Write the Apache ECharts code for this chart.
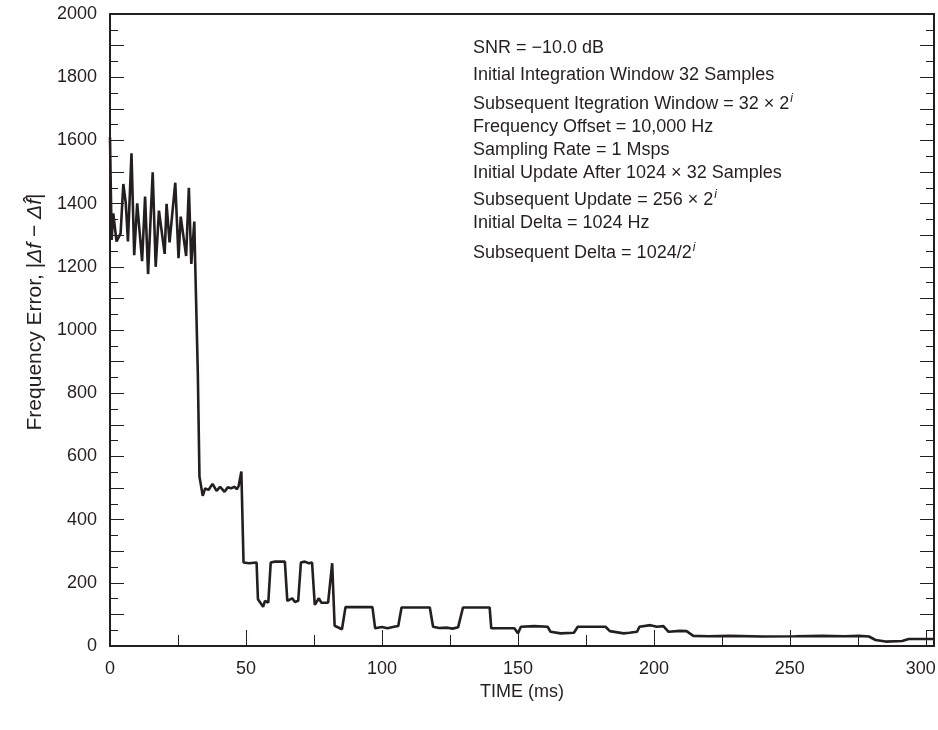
<!DOCTYPE html>
<html>
<head>
<meta charset="utf-8">
<script src="https://cdn.jsdelivr.net/npm/echarts@6/dist/echarts.min.js"></script>
<style>
  html, body { margin: 0; padding: 0; background: #fff; }
  #chart { width: 938px; height: 730px; }
</style>
</head>
<body>
<div id="chart"></div>
<script>
// time (ms) and frequency error (Hz)
const timeMs = [
  0, 0.6, 1.2, 2.4, 3.9, 4.9, 5.8, 6.6, 7.9, 8.9, 10.0, 11.8, 12.9, 14.0, 15.7, 16.8, 18.0, 20.1, 20.8, 21.9,
  24.0, 25.2, 26.0, 28.0, 29.0, 29.9, 31.0, 31.3, 32.3, 32.9, 34.1, 35.0, 36.2, 37.7, 39.2, 40.5, 42.1, 43.3,
  44.5, 45.8, 46.6, 47.3, 48.3, 49.1, 51.2, 53.9, 54.4, 56.3, 57.0, 58.2, 59.1, 60.7, 64.3, 65.2, 67.0, 68.0,
  69.2, 70.2, 71.6, 73.1, 74.3, 75.3, 76.8, 77.7, 80.2, 81.7, 82.6, 85.3, 86.6, 96.5, 97.5, 100, 102, 104, 106,
  107.2, 117.6, 118.8, 121, 124, 126, 128, 129.8, 139.6, 140.2, 148.7, 150.0, 151.1, 156, 160.9, 162, 165.7,
  170.6, 172, 182.2, 183.8, 188.9, 191, 193.8, 194.7, 198.7, 201.1, 203.5, 205.4, 209.6, 212, 214.5, 220, 228,
  240, 252, 262, 270, 275.4, 279.1, 281.5, 285.2, 291.3, 293.7, 303
];
const freqError = [
  1610, 1285, 1369, 1280, 1306, 1462, 1401, 1280, 1559, 1237, 1401, 1218, 1422, 1177, 1499, 1200, 1378, 1241, 1399, 1277,
  1466, 1227, 1359, 1234, 1450, 1209, 1343, 1222, 860, 536, 475, 499, 494, 513, 491, 504, 488, 502,
  499, 504, 496, 506, 552, 264, 262, 264, 148, 124, 143, 137, 264, 267, 267, 143, 151, 139,
  143, 264, 267, 262, 264, 130, 151, 137, 137, 262, 64, 53, 123, 123, 56, 60, 56, 60, 63,
  122, 122, 61, 57, 58, 55, 59, 122, 122, 56, 56, 40, 61, 63, 61, 45, 40,
  42, 61, 61, 47, 40, 42, 45, 61, 66, 61, 63, 45, 48, 47, 32, 31, 32,
  30, 31, 32, 31, 32, 30, 19, 14, 16, 22, 22
];
const notes = [
  'SNR = \u221210.0 dB',
  'Initial Integration Window 32 Samples',
  'Subsequent Itegration Window = 32 \u00d7 2{sup|i}',
  'Frequency Offset = 10,000 Hz',
  'Sampling Rate = 1 Msps',
  'Initial Update After 1024 \u00d7 32 Samples',
  'Subsequent Update = 256 \u00d7 2{sup|i}',
  'Initial Delta = 1024 Hz',
  'Subsequent Delta = 1024/2{sup|i}'
];
const noteY = [48, 75, 104, 127, 150, 173, 200, 223, 253];

const ink = '#231f20';
const font = 'Liberation Sans, Arial, sans-serif';
const seriesData = timeMs.map((t, i) => [t, freqError[i]]);

const chart = echarts.init(document.getElementById('chart'));
const frameAxis = (extra) => Object.assign({
  type: 'value',
  axisLine: { show: true, onZero: false, lineStyle: { color: ink, width: 2 } },
  splitLine: { show: false }
}, extra);

chart.setOption({
  animation: false,
  grid: { left: 110, right: 4, top: 14, bottom: 84, outerBoundsMode: 'none', containLabel: false },
  xAxis: [
    frameAxis({
      min: 0, max: 303, interval: 50, position: 'bottom',
      axisTick: { inside: true, length: 16, lineStyle: { color: ink, width: 1 } },
      minorTick: { show: true, splitNumber: 2, length: 11, lineStyle: { color: ink, width: 1 } },
      axisLabel: {
        formatter: v => (v === 300 ? '{e|300}' : v % 50 === 0 ? String(v) : ''),
        fontSize: 18, color: ink, fontFamily: font, margin: 14,
        rich: { e: { fontSize: 18, color: ink, fontFamily: font, padding: [0, 10, 0, 0] } }
      },
      name: 'TIME (ms)', nameLocation: 'middle', nameGap: 36,
      nameTextStyle: { fontSize: 18, color: ink, fontFamily: font }
    }),
    frameAxis({ min: 0, max: 303, position: 'top', axisTick: { show: false }, axisLabel: { show: false } })
  ],
  yAxis: [
    frameAxis({
      min: 0, max: 2000, interval: 100, position: 'left',
      axisTick: { inside: true, length: 14, lineStyle: { color: ink, width: 1 } },
      minorTick: { show: true, splitNumber: 2, length: 8, lineStyle: { color: ink, width: 1 } },
      axisLabel: { formatter: v => (v % 200 === 0 ? String(v) : ''), fontSize: 18, color: ink, fontFamily: font, margin: 13 },
      name: '{t|Frequency Error, |}{i|\u0394f}{t| \u2212 }{i|\u0394f\u0302}{t||}',
      nameLocation: 'middle', nameGap: 64,
      nameTextStyle: {
        padding: [0, 0, 0, 36],
        rich: {
          t: { fontSize: 21, color: ink, fontFamily: font },
          i: { fontSize: 21, color: ink, fontFamily: font, fontStyle: 'italic' }
        }
      }
    }),
    frameAxis({
      min: 0, max: 2000, interval: 100, position: 'right',
      axisTick: { inside: true, length: 14, lineStyle: { color: ink, width: 1 } },
      minorTick: { show: true, splitNumber: 2, length: 8, lineStyle: { color: ink, width: 1 } },
      axisLabel: { show: false }
    })
  ],
  graphic: notes.map((txt, i) => ({
    type: 'text', x: 473, y: noteY[i], silent: true,
    style: {
      text: txt, fill: ink, fontSize: 18, fontFamily: font, verticalAlign: 'middle', align: 'left',
      rich: { sup: { fontSize: 12, fontStyle: 'italic', fill: ink, fontFamily: font, verticalAlign: 'top', padding: [0, 0, 10, 1] } }
    }
  })),
  series: [{
    type: 'line', data: seriesData, showSymbol: false, xAxisIndex: 0, yAxisIndex: 0,
    lineStyle: { color: ink, width: 2.6 }
  }]
});
</script>
</body>
</html>
